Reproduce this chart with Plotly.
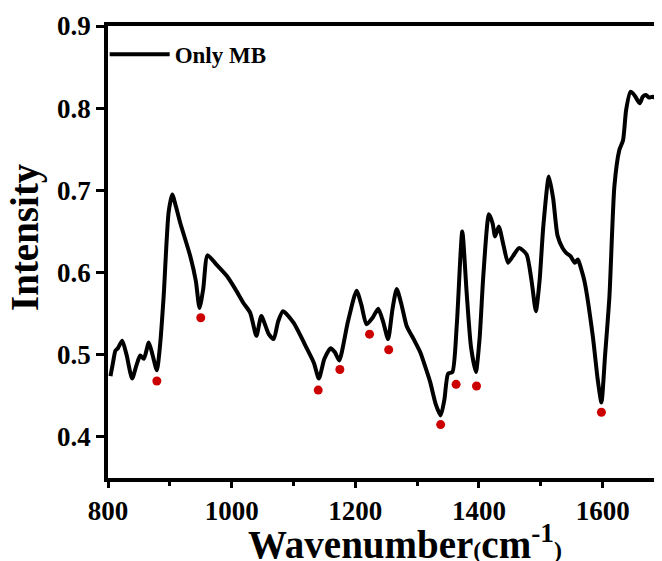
import plotly.graph_objects as go

wavenumber = [804, 808, 812, 816, 823, 830, 839, 846, 852, 858, 866, 872, 879, 884, 890, 898, 904, 910,
              917, 933, 942, 948, 954, 961, 975, 992, 1005, 1019, 1030, 1040, 1048, 1060, 1068, 1075,
              1083, 1100, 1122, 1133, 1141, 1150, 1160, 1167, 1174, 1188, 1202, 1210, 1218, 1228, 1237,
              1245, 1253, 1260, 1267, 1275, 1283, 1295, 1305, 1312, 1321, 1330, 1338, 1344, 1350, 1357,
              1364, 1373, 1380, 1387, 1395, 1401, 1407, 1416, 1422, 1426, 1432, 1440, 1447, 1455, 1465,
              1477, 1485, 1492, 1498, 1504, 1513, 1520, 1527, 1535, 1541, 1548, 1555, 1560, 1565, 1571,
              1584, 1592, 1598, 1604, 1611, 1619, 1627, 1633, 1638, 1645, 1649, 1653, 1656, 1660, 1665,
              1670, 1675, 1681, 1686, 1692, 1698]
intensity = [0.474, 0.490, 0.505, 0.508, 0.517, 0.500, 0.471, 0.487, 0.499, 0.495, 0.515, 0.500, 0.481,
             0.510, 0.571, 0.673, 0.695, 0.680, 0.660, 0.620, 0.590, 0.557, 0.580, 0.621, 0.610, 0.596,
             0.581, 0.563, 0.551, 0.523, 0.547, 0.525, 0.519, 0.540, 0.553, 0.539, 0.507, 0.490, 0.471,
             0.495, 0.508, 0.503, 0.493, 0.540, 0.578, 0.560, 0.537, 0.545, 0.556, 0.540, 0.519, 0.555,
             0.580, 0.560, 0.535, 0.518, 0.503, 0.488, 0.467, 0.440, 0.426, 0.445, 0.477, 0.479, 0.535,
             0.650, 0.576, 0.510, 0.479, 0.520, 0.596, 0.671, 0.660, 0.644, 0.656, 0.632, 0.612, 0.620,
             0.630, 0.622, 0.590, 0.553, 0.590, 0.656, 0.717, 0.690, 0.645, 0.630, 0.624, 0.620, 0.612,
             0.616, 0.605, 0.588, 0.523, 0.470, 0.442, 0.500, 0.571, 0.705, 0.749, 0.761, 0.798, 0.820,
             0.818, 0.814, 0.810, 0.806, 0.814, 0.816, 0.813, 0.814, 0.812, 0.808, 0.806]

peak_x = [879, 950, 1140, 1175, 1223, 1254, 1338, 1363, 1396, 1598]
peak_y = [0.468, 0.545, 0.457, 0.482, 0.525, 0.506, 0.415, 0.464, 0.462, 0.430]

x_ticks = [800, 1000, 1200, 1400, 1600]
y_ticks = [0.4, 0.5, 0.6, 0.7, 0.8, 0.9]

FONT = "Liberation Serif, Times New Roman, serif"

fig = go.Figure()
fig.add_trace(go.Scatter(x=wavenumber, y=intensity, mode="lines", name="Only MB",
                         line=dict(color="black", width=4, shape="spline", smoothing=0.6)))
fig.add_trace(go.Scatter(x=peak_x, y=peak_y, mode="markers", showlegend=False,
                         marker=dict(color="#cc0000", size=9)))

# page body has an 8px default margin, so the figure is sized to fit the window
fig.update_layout(
    width=654, height=553,
    margin=dict(l=100, r=0, t=18, b=83, autoexpand=False),
    paper_bgcolor="white", plot_bgcolor="white",
    font=dict(family=FONT, color="black", weight="bold"),
    showlegend=True,
    legend=dict(x=-0.006, y=0.985, xanchor="left", yanchor="top", bgcolor="rgba(0,0,0,0)",
                font=dict(family=FONT, size=23, color="black", weight="bold"), itemwidth=60),
    xaxis=dict(range=[800, 1696], tickvals=x_ticks, showgrid=False, zeroline=False, automargin=False,
               showline=True, linecolor="black", linewidth=3.5, mirror=True,
               ticks="outside", ticklen=6, tickwidth=3, tickcolor="black",
               minor=dict(dtick=100, ticks="outside", ticklen=4, tickwidth=3, tickcolor="black"),
               tickfont=dict(family=FONT, size=27, color="black", weight="bold")),
    yaxis=dict(range=[0.35, 0.9], tickvals=y_ticks, tickformat=".1f", showgrid=False, zeroline=False,
               automargin=False,
               showline=True, linecolor="black", linewidth=3.5,
               ticks="outside", ticklen=8, tickwidth=3, tickcolor="black",
               tickfont=dict(family=FONT, size=27, color="black", weight="bold")),
    annotations=[
        dict(text="<b>Wavenumber<span style='font-size:24px'>(</span>cm<sup>-1</sup><span style='font-size:24px'>)</span></b>",
             xref="paper", yref="paper", x=0.537, y=-0.142, xanchor="center", yanchor="middle",
             showarrow=False, font=dict(family=FONT, size=39, color="black", weight="bold")),
        dict(text="<b>Intensity</b>", xref="paper", yref="paper", x=-0.15, y=0.533,
             xanchor="center", yanchor="middle", textangle=-90,
             showarrow=False, font=dict(family=FONT, size=39, color="black", weight="bold")),
    ],
)

fig.write_html("out.html")
